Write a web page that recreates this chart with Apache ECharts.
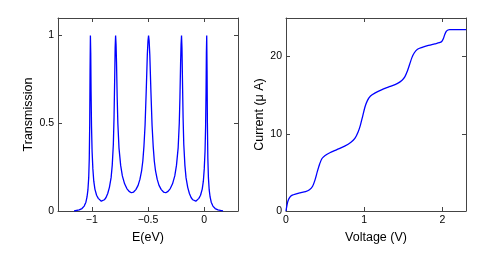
<!DOCTYPE html>
<html>
<head>
<meta charset="utf-8">
<script src="https://cdn.jsdelivr.net/npm/echarts@6/dist/echarts.min.js"></script>
<style>
html,body{margin:0;padding:0;background:#fff;}
#chart{width:491px;height:256px;}
</style>
</head>
<body>
<div id="chart"></div>
<script>
// Left panel: transmission vs energy
const energy = [
  -1.157, -1.142, -1.112, -1.087, -1.067, -1.052, -1.042, -1.034, -1.027, -1.022, -1.018, -1.015, -1.012,
  -1.009, -1.006, -1.002, -0.997, -0.990, -0.982, -0.972, -0.957, -0.942, -0.927, -0.915, -0.900, -0.888,
  -0.873, -0.858, -0.843, -0.828, -0.818, -0.808, -0.802, -0.796, -0.792, -0.788, -0.784, -0.780, -0.774,
  -0.768, -0.758, -0.743, -0.728, -0.708, -0.688, -0.668, -0.648, -0.628, -0.608, -0.588, -0.572, -0.557,
  -0.546, -0.536, -0.526, -0.516, -0.506, -0.500, -0.495,
  -0.490, -0.484, -0.474, -0.464, -0.454, -0.444, -0.433, -0.418, -0.402, -0.382, -0.362, -0.342, -0.322,
  -0.302, -0.282, -0.262, -0.247, -0.232, -0.222, -0.216, -0.210, -0.206, -0.202, -0.198, -0.194, -0.188,
  -0.182, -0.172, -0.162, -0.147, -0.132, -0.117, -0.102, -0.090, -0.075, -0.063, -0.048, -0.033, -0.018,
  -0.008, 0.000, 0.007, 0.012, 0.016, 0.019, 0.022, 0.025, 0.028, 0.032, 0.037, 0.044, 0.052, 0.062, 0.077,
  0.097, 0.122, 0.152, 0.167
];
const transmission = [
  0, 0.002, 0.006, 0.014, 0.028, 0.05, 0.08, 0.12, 0.19, 0.3, 0.5, 0.8, 1.0,
  0.9, 0.68, 0.48, 0.34, 0.24, 0.17, 0.125, 0.09, 0.072, 0.062, 0.056, 0.058, 0.064,
  0.077, 0.1, 0.135, 0.19, 0.26, 0.38, 0.53, 0.76, 0.93, 1.0, 0.95, 0.85, 0.65,
  0.5, 0.36, 0.26, 0.2, 0.155, 0.128, 0.112, 0.104, 0.108, 0.122, 0.146, 0.18, 0.228,
  0.285, 0.37, 0.49, 0.68, 0.89, 0.97, 1.0,
  0.97, 0.89, 0.68, 0.49, 0.37, 0.285, 0.228, 0.18, 0.146, 0.122, 0.108, 0.104, 0.112,
  0.128, 0.155, 0.2, 0.26, 0.36, 0.5, 0.65, 0.85, 0.95, 1.0, 0.93, 0.76, 0.53,
  0.38, 0.26, 0.19, 0.135, 0.1, 0.077, 0.064, 0.058, 0.056, 0.062, 0.072, 0.09, 0.125,
  0.17, 0.24, 0.34, 0.48, 0.68, 0.9, 1.0, 0.8, 0.5, 0.3, 0.19, 0.12, 0.08, 0.05, 0.028,
  0.014, 0.006, 0.002, 0
];
const energyTicks = [-1, -0.5, 0];
const transmissionTicks = [0, 0.5, 1];

// Right panel: current vs voltage
const voltage = [
  0, 0.01, 0.025, 0.05, 0.08, 0.12, 0.18, 0.25, 0.30, 0.34, 0.37, 0.40, 0.43, 0.46, 0.50, 0.56, 0.65, 0.75,
  0.83, 0.88, 0.92, 0.95, 0.98, 1.01, 1.04, 1.08, 1.14, 1.22, 1.32, 1.42, 1.48, 1.52, 1.55, 1.58, 1.61, 1.64,
  1.68, 1.74, 1.82, 1.90, 1.96, 1.99, 2.01, 2.03, 2.05, 2.07, 2.09, 2.15, 2.3
];
const current = [
  0, 0.6, 1.3, 1.8, 2.05, 2.2, 2.35, 2.5, 2.75, 3.2, 4.0, 5.1, 6.1, 6.8, 7.2, 7.55, 7.95, 8.4,
  8.9, 9.4, 10.2, 11.1, 12.3, 13.5, 14.3, 14.9, 15.3, 15.7, 16.1, 16.5, 16.9, 17.4, 18.1, 19.0, 19.9, 20.5,
  20.95, 21.2, 21.45, 21.65, 21.8, 21.95, 22.3, 22.9, 23.3, 23.45, 23.5, 23.5, 23.5
];
const voltageTicks = [0, 1, 2];
const currentTicks = [0, 10, 20];

const FONT = 'Liberation Sans, Arial, sans-serif';
const lineCol = '#444';
const fmt = v => String(v).replace('-', '\u2212');

function boxAxes(kind, gridIndex, min, max, ticks, name, nameGap) {
  const main = {
    type: 'value', gridIndex, min, max,
    position: kind === 'x' ? 'bottom' : 'left',
    name: name, nameLocation: 'middle', nameGap: nameGap,
    nameTextStyle: {fontFamily: FONT, fontSize: 12.5, color: '#000'},
    axisLine: {show: true, onZero: false, lineStyle: {color: lineCol, width: 1}},
    axisTick: {show: true, inside: true, length: 4, customValues: ticks, lineStyle: {color: lineCol}},
    axisLabel: {show: true, customValues: ticks, formatter: fmt, fontFamily: FONT, fontSize: 10.5, color: '#000', margin: 4},
    splitLine: {show: false}
  };
  const opp = {
    type: 'value', gridIndex, min, max,
    position: kind === 'x' ? 'top' : 'right',
    axisLine: {show: true, onZero: false, lineStyle: {color: lineCol, width: 1}},
    axisTick: {show: true, inside: true, length: 4, customValues: ticks, lineStyle: {color: lineCol}},
    axisLabel: {show: false},
    splitLine: {show: false}
  };
  return [main, opp];
}

const xAxes = [
  ...boxAxes('x', 0, -1.3, 0.3, energyTicks, 'E(eV)', 14),
  ...boxAxes('x', 1, 0, 2.3, voltageTicks, 'Voltage (V)', 14)
];
const yAxes = [
  ...boxAxes('y', 0, 0, 1.1, transmissionTicks, 'Transmission', 19),
  ...boxAxes('y', 1, 0, 25, currentTicks, 'Current (\u03bc A)', 19)
];

const chart = echarts.init(document.getElementById('chart'), null, {renderer: 'canvas'});
chart.setOption({
  animation: false,
  backgroundColor: '#fff',
  grid: [
    {left: 58, top: 18, width: 180, height: 193},
    {left: 286, top: 18, width: 180, height: 193}
  ],
  xAxis: xAxes,
  yAxis: yAxes,
  series: [
    {
      type: 'line', xAxisIndex: 0, yAxisIndex: 0,
      data: energy.map((e, i) => [e, transmission[i]]),
      showSymbol: false, smooth: false,
      lineStyle: {color: '#0000ff', width: 1.3}
    },
    {
      type: 'line', xAxisIndex: 2, yAxisIndex: 2,
      data: voltage.map((v, i) => [v, current[i]]),
      showSymbol: false, smooth: 0.3,
      lineStyle: {color: '#0000ff', width: 1.3}
    }
  ]
});
</script>
</body>
</html>
